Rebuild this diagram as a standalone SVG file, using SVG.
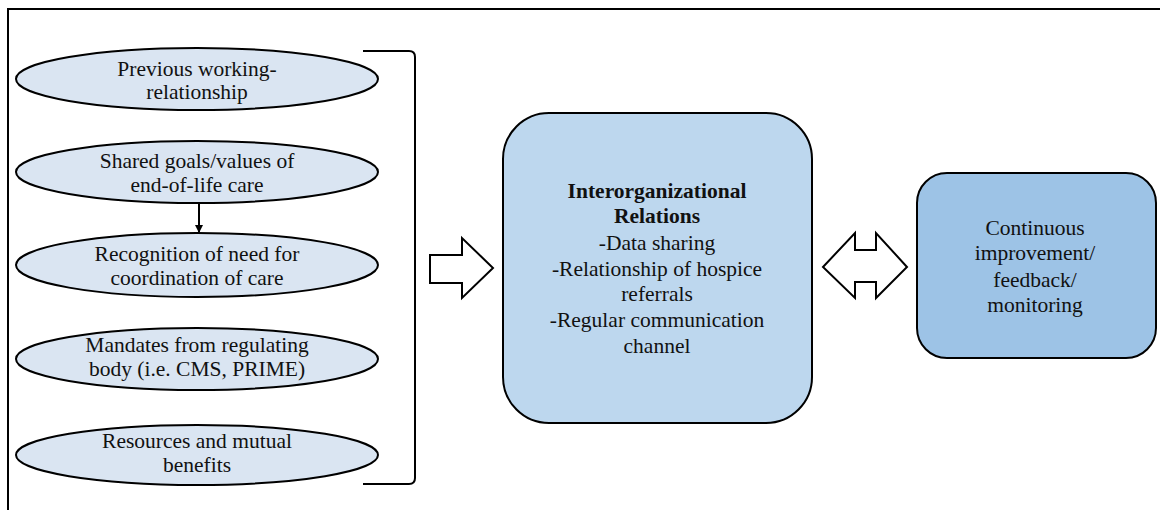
<svg xmlns="http://www.w3.org/2000/svg" width="1160" height="510" viewBox="0 0 1160 510">
  <style>
    .frame { fill: #ffffff; stroke: #000000; stroke-width: 2; }
    .factor { fill: #dae5f2; stroke: #000000; stroke-width: 2; }
    text { font-family: 'Liberation Serif', 'Times New Roman', 'DejaVu Serif', serif; font-size: 21.5px; fill: #111111; text-anchor: middle; }
    .bold { font-weight: bold; }
    .line { fill: none; stroke: #000000; stroke-width: 2; }
    .hollow { fill: #ffffff; stroke: #000000; stroke-width: 2; stroke-linejoin: miter; }
  </style>
  <defs>
    <marker id="arrowhead" markerWidth="8" markerHeight="8" refX="7" refY="4" orient="auto" markerUnits="userSpaceOnUse">
      <path d="M0,0 L8,4 L0,8 Z" fill="#000000"/>
    </marker>
  </defs>

  <rect x="0" y="0" width="1160" height="510" fill="#ffffff"/>
  <!-- outer frame, open past the right and bottom edges -->
  <rect class="frame" x="8" y="9" width="1170" height="520"/>

  <!-- contributing factors -->
  <g id="factor-previous">
    <ellipse class="factor" cx="197" cy="79" rx="181" ry="31"/>
    <text x="197" y="76">Previous working-</text>
    <text x="197" y="99">relationship</text>
  </g>
  <g id="factor-shared">
    <ellipse class="factor" cx="197" cy="172" rx="181" ry="31"/>
    <text x="197" y="168">Shared goals/values of</text>
    <text x="197" y="192">end-of-life care</text>
  </g>
  <g id="factor-recognition">
    <ellipse class="factor" cx="197" cy="265" rx="181" ry="32"/>
    <text x="197" y="261">Recognition of need for</text>
    <text x="197" y="285">coordination of care</text>
  </g>
  <g id="factor-mandates">
    <ellipse class="factor" cx="197" cy="359" rx="181" ry="31"/>
    <text x="197" y="352">Mandates from regulating</text>
    <text x="197" y="376">body (i.e. CMS, PRIME)</text>
  </g>
  <g id="factor-resources">
    <ellipse class="factor" cx="197" cy="455" rx="181" ry="30"/>
    <text x="197" y="448">Resources and mutual</text>
    <text x="197" y="472">benefits</text>
  </g>

  <!-- central relations box -->
  <g id="relations">
    <rect x="503" y="113" width="309" height="310" rx="46" ry="46" fill="#bdd7ee" stroke="#000000" stroke-width="2"/>
    <text class="bold" x="657" y="198">Interorganizational</text>
    <text class="bold" x="657" y="223">Relations</text>
    <text x="657" y="250">-Data sharing</text>
    <text x="657" y="276">-Relationship of hospice</text>
    <text x="657" y="301">referrals</text>
    <text x="657" y="327">-Regular communication</text>
    <text x="657" y="353">channel</text>
  </g>

  <!-- feedback box -->
  <g id="improvement">
    <rect x="917" y="173" width="239" height="185" rx="30" ry="30" fill="#9dc3e6" stroke="#000000" stroke-width="2"/>
    <text x="1035" y="235">Continuous</text>
    <text x="1035" y="260">improvement/</text>
    <text x="1035" y="287">feedback/</text>
    <text x="1035" y="312">monitoring</text>
  </g>

  <!-- connectors -->
  <g id="connectors">
    <line class="line" x1="199" y1="203" x2="199" y2="232" marker-end="url(#arrowhead)"/>
    <path class="line" d="M363,51 L409,51 Q415,51 415,57 L415,478 Q415,484 409,484 L363,484"/>
    <path class="hollow" d="M430,255 L462,255 L462,238 L493,268 L462,298 L462,283 L430,283 Z"/>
    <path class="hollow" d="M823,267 L855,233 L855,250 L876,250 L876,233 L907,267 L876,298 L876,282 L855,282 L855,298 Z"/>
  </g>
</svg>
